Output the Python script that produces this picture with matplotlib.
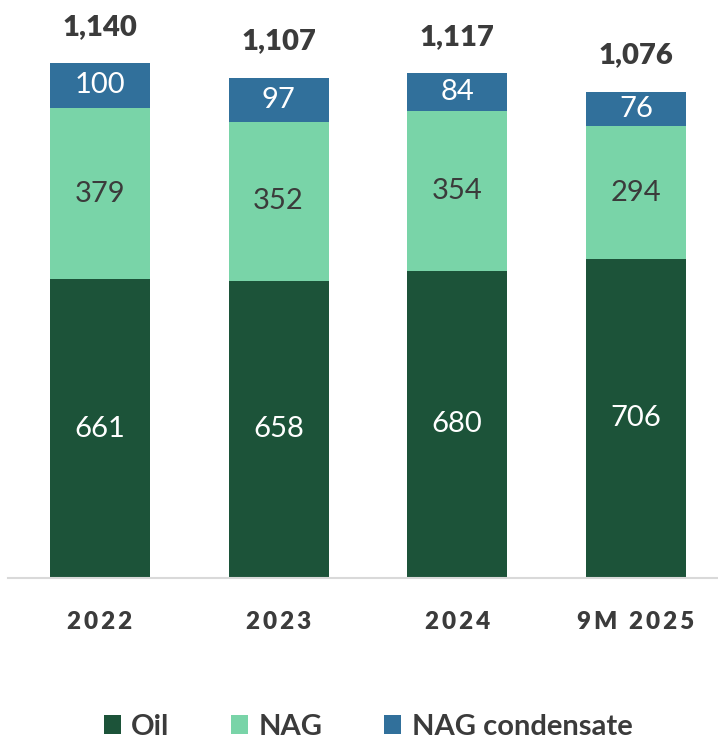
import numpy as np
import matplotlib.pyplot as plt
from matplotlib.patches import Patch

# Data
categories = ["2022", "2023", "2024", "9M 2025"]
oil = [661, 658, 680, 706]
nag = [379, 352, 354, 294]
nag_condensate = [100, 97, 84, 76]
totals = [1140, 1107, 1117, 1076]

series_names = ["Oil", "NAG", "NAG condensate"]
colors = ["#1C5339", "#79D4A8", "#31709B"]
label_colors = ["white", "#3B3B3B", "white"]
text_color = "#3B3B3B"

plt.rcParams['font.family'] = ['Lato', 'DejaVu Sans']

fig = plt.figure(figsize=(7.18, 7.40), dpi=100)
ax = fig.add_axes([8 / 718, (740 - 578) / 740, 710 / 718, 578 / 740])

x = np.arange(len(categories))
width = 0.56
bottom = np.zeros(len(categories))
for vals, col, lcol in zip([oil, nag, nag_condensate], colors, label_colors):
    vals = np.array(vals)
    ax.bar(x, vals, width, bottom=bottom, color=col, edgecolor="none")
    for xi, b, v in zip(x, bottom, vals):
        ax.text(xi, b + v / 2, f"{v}", ha="center", va="center",
                fontsize=21, color=lcol)
    bottom += vals

# totals above the bars
for xi, t in zip(x, totals):
    ax.text(xi, t + 80, f"{t:,}", ha="center", va="center",
            fontsize=21, fontweight="heavy", color=text_color)

ax.set_xlim(-0.515, 3.46)
ax.set_ylim(0, 1279)
ax.set_yticks([])
ax.set_xticks(x)
# spread out the category letters a bit
spaced = ["\u200a\u200a".join(c) for c in categories]
ax.set_xticklabels(spaced, fontsize=17.5, fontweight="heavy", color=text_color)
ax.tick_params(axis="x", length=0, pad=24)
for s in ["top", "left", "right"]:
    ax.spines[s].set_visible(False)
ax.spines["bottom"].set_color("#D9D9D9")
ax.spines["bottom"].set_linewidth(1.5)

handles = [Patch(facecolor=c, edgecolor="none") for c in colors]
leg = fig.legend(handles, series_names, loc="center", bbox_to_anchor=(368 / 718, 13 / 740),
                 ncol=3, frameon=False, handlelength=0.6, handleheight=0.6,
                 handletextpad=0.35, columnspacing=2.1, borderpad=0,
                 prop={"weight": "bold", "size": 21})
for t in leg.get_texts():
    t.set_color(text_color)

plt.savefig("out.png", dpi=100)
